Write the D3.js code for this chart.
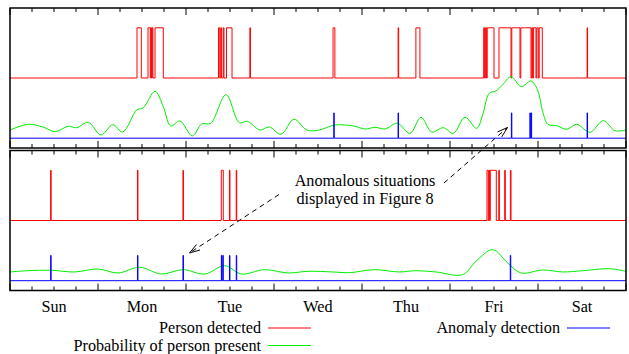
<!DOCTYPE html>
<html><head><meta charset="utf-8">
<script src="https://cdn.jsdelivr.net/npm/d3@7"></script>
<style>body{margin:0;background:#fff}svg{display:block}text{font-family:"Liberation Serif","DejaVu Serif",serif;font-size:16.2px;fill:#000}</style>
</head><body><svg id="c" width="629" height="354"></svg>
<script>
// Time axis in hours from Sunday 00:00
const days = ["Sun","Mon","Tue","Wed","Thu","Fri","Sat"];
// Person detected intervals [start,end] in hours (top: normal week, bottom: anomalous)
const topDetected = [[34.64,35.81],[37.64,38.26],[38.43,38.62],[38.78,38.97],[39.55,41.81],
  [56.86,57.22],[57.49,57.71],[58.17,58.36],[59.05,60.55],[65.42,65.58],
  [88.1,88.6],[105.85,106.0],[110.7,111.8],
  [129.19,129.44],[129.65,129.93],[130.15,132.0],[133.36,136.64],[136.85,139.09],[139.31,142.09],
  [142.31,142.53],[142.75,143.45],[143.67,144.08],[144.33,145.17],[157.4,157.52]];
const bottomDetected = [[11.08,11.22],[34.76,34.9],[47.17,47.31],[57.63,58.17],[59.85,59.99],[61.7,61.84],
  [130.09,130.45],[130.64,130.8],[130.99,132.63],[133.31,133.47],[134.92,135.08],[136.47,136.64]];
// Anomaly detections (hours)
const topAnomaly = [88.36,105.9,136.8,141.85,142.2,157.45];
const bottomAnomaly = [11.15,34.83,47.24,57.7,58.1,59.92,61.77,136.5];
// Probability of person present [hour, probability]
const topProb = [[0,0.136],[4.99,0.231],[9.0,0.186],[12.27,0.108],[15.9,0.198],[18.19,0.174],[21.35,0.264],
  [24.82,0.053],[28.0,0.224],[30.74,0.103],[34.55,0.468],[36.35,0.507],[39.55,0.779],[41.81,0.523],
  [43.83,0.203],[46.36,0.286],[49.72,0.037],[52.28,0.236],[54.74,0.248],[58.91,0.723],[62.54,0.257],
  [64.72,0.281],[68.18,0.136],[70.72,0.186],[73.91,0.065],[77.45,0.314],[80.92,0.136],[84.08,0.131],
  [88.64,0.219],[93.63,0.203],[96.82,0.153],[99.55,0.181],[102.27,0.153],[105.63,0.248],[109.09,0.081],
  [112.09,0.347],[115.0,0.103],[118.17,0.174],[120.9,0.081],[124.09,0.347],[127.28,0.164],[128.9,0.385],
  [130.7,0.746],[132.5,0.784],[134.3,0.884],[136.64,1.022],[139.4,0.857],[142.09,0.95],[143.9,0.8],
  [145.28,0.44],[146.7,0.23],[149.1,0.208],[151.83,0.148],[154.55,0.231],[158.18,0.098],[161.81,0.291],
  [165.0,0.125],[168,0.136]];
const bottomProb = [[0,0.145],[4.91,0.166],[11.26,0.173],[17.65,0.145],[24.0,0.194],[29.45,0.128],
  [35.37,0.223],[41.26,0.111],[47.18,0.183],[53.1,0.111],[58.55,0.249],[63.08,0.111],[69.46,0.183],
  [75.82,0.128],[81.27,0.156],[88.0,0.145],[92.54,0.133],[99.35,0.183],[106.17,0.145],[110.73,0.166],
  [116.18,0.145],[123.46,0.1],[127.09,0.322],[131.65,0.515],[135.74,0.294],[139.36,0.128],[145.28,0.178],
  [150.74,0.145],[156.19,0.166],[163.45,0.199],[168,0.156]];
const legendLabels = ["Person detected","Probability of person present","Anomaly detection"];
const annotation = ["Anomalous situations","displayed in Figure 8"];

const svg = d3.select("#c");
const x = d3.scaleLinear().domain([0,168]).range([10,626]);
const panels = [
  {top:8, bottom:148, det:topDetected, an:topAnomaly, prob:topProb},
  {top:150.5, bottom:290.5, det:bottomDetected, an:bottomAnomaly, prob:bottomProb}
];
const RED_BASE=1, RED_TOP=1.834, BLUE_TOP=0.42;
function steps(pulses, base, top){
  const p=[[0,base]];
  pulses.forEach(([s,e])=>{p.push([s,base],[s,top],[e,top],[e,base]);});
  p.push([168,base]);
  return p;
}
panels.forEach(P=>{
  const y = d3.scaleLinear().domain([-0.163,2.163]).range([P.bottom,P.top]);
  const g = svg.append("g");
  const line = d3.line().x(d=>x(d[0])).y(d=>y(d[1]));
  g.append("path").attr("d",line(steps(P.det,RED_BASE,RED_TOP))).attr("fill","none").attr("stroke","#ff0000").attr("stroke-width",1);
  g.append("path").attr("d",line.curve(d3.curveCatmullRom)(P.prob)).attr("fill","none").attr("stroke","#00ee00").attr("stroke-width",1);
  line.curve(d3.curveLinear);
  g.append("path").attr("d",line(steps(P.an.map(t=>[t-0.06,t+0.06]),0,BLUE_TOP))).attr("fill","none").attr("stroke","#0000ff").attr("stroke-width",1);
  // ticks
  const tk = d3.range(0,169,6);
  tk.forEach(t=>{
    const L = t%24===0?7:4;
    g.append("line").attr("x1",x(t)).attr("x2",x(t)).attr("y1",P.top).attr("y2",P.top+L).attr("stroke","#000");
    g.append("line").attr("x1",x(t)).attr("x2",x(t)).attr("y1",P.bottom).attr("y2",P.bottom-L).attr("stroke","#000");
  });
  g.append("rect").attr("x",x(0)).attr("y",P.top).attr("width",x(168)-x(0)).attr("height",P.bottom-P.top)
    .attr("fill","none").attr("stroke","#000").attr("stroke-width",1.5);
});
// day labels
svg.selectAll(".day").data(days).join("text").attr("class","day")
  .attr("x",(d,i)=>x(i*24+12)).attr("y",312).attr("text-anchor","middle").text(d=>d);
// annotation
svg.selectAll(".ann").data(annotation).join("text").attr("class","ann")
  .attr("x",365).attr("y",(d,i)=>186+i*17.5).attr("text-anchor","middle").text(d=>d);
function arrow(x1,y1,x2,y2){
  svg.append("line").attr("x1",x1).attr("y1",y1).attr("x2",x2).attr("y2",y2)
    .attr("stroke","#000").attr("stroke-dasharray","5,4");
  const a=Math.atan2(y2-y1,x2-x1), L=11, w=0.3;
  const pts=[[x2-L*Math.cos(a-w),y2-L*Math.sin(a-w)],[x2,y2],[x2-L*Math.cos(a+w),y2-L*Math.sin(a+w)]];
  svg.append("path").attr("d",d3.line()(pts)).attr("fill","none").attr("stroke","#000");
}
arrow(444,183,507.5,127.5);
arrow(279,194.5,189.5,253);
// legend
const leg = [{t:legendLabels[0],x:261,y:333,c:"#ff0000",lx:268},{t:legendLabels[1],x:261,y:350.5,c:"#00ee00",lx:268},{t:legendLabels[2],x:560,y:333,c:"#0000ff",lx:567}];
leg.forEach(l=>{
  svg.append("text").attr("x",l.x).attr("y",l.y).attr("text-anchor","end").text(l.t);
  svg.append("line").attr("x1",l.lx).attr("x2",l.lx+43).attr("y1",l.y-5).attr("y2",l.y-5).attr("stroke",l.c);
});
</script></body></html>
